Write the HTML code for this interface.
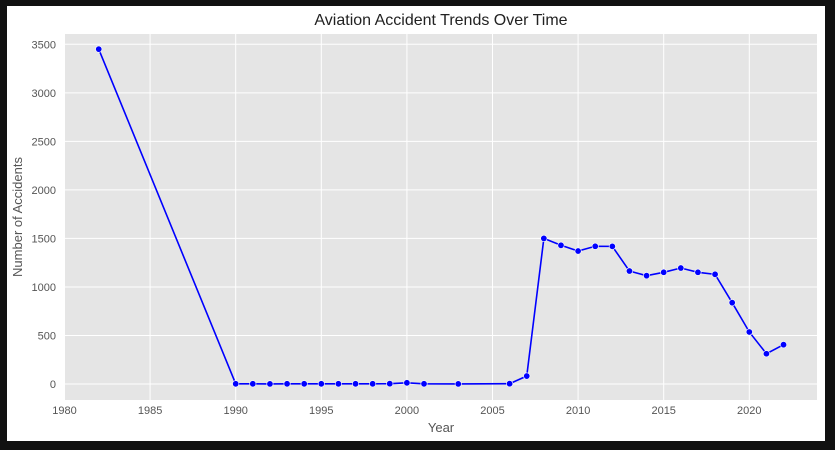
<!DOCTYPE html>
<html><head><meta charset="utf-8"><style>
html,body{margin:0;padding:0;background:#111;}
svg{display:block;font-family:"Liberation Sans",sans-serif;}
</style></head><body>
<svg id="chart" width="835" height="450">
<rect x="0" y="0" width="835" height="450" fill="#111"/>
<rect x="7" y="6" width="818" height="435" fill="#fff"/>
<rect x="65" y="34" width="752" height="366" fill="#e5e5e5"/>
<g id="grid"></g><g id="ticks"></g><g id="series"></g>
<text x="441" y="25" text-anchor="middle" font-size="16" fill="#222">Aviation Accident Trends Over Time</text>
<text x="441" y="432" text-anchor="middle" font-size="13" fill="#555">Year</text>
<text transform="translate(22,217) rotate(-90)" text-anchor="middle" font-size="13" fill="#555">Number of Accidents</text>
</svg>
<script>
const years=[1982,1990,1991,1992,1993,1994,1995,1996,1997,1998,1999,2000,2001,2003,2006,2007,2008,2009,2010,2011,2012,2013,2014,2015,2016,2017,2018,2019,2020,2021,2022];
const accidents=[3450,2,2,1,2,2,2,2,2,2,3,12,2,1,3,82,1500,1429,1370,1419,1418,1164,1116,1151,1195,1151,1130,838,536,312,405];
const xTicks=[1980,1985,1990,1995,2000,2005,2010,2015,2020];
const yTicks=[0,500,1000,1500,2000,2500,3000,3500];
const NS="http://www.w3.org/2000/svg";
const xs=y=>64.5+(y-1980)*17.12;
const ys=v=>384-v*0.09706;
function mk(t,a,p){const e=document.createElementNS(NS,t);for(const k in a)e.setAttribute(k,a[k]);p.appendChild(e);return e;}
const grid=document.getElementById('grid'),ticks=document.getElementById('ticks'),series=document.getElementById('series');
xTicks.forEach(t=>{
 const l=mk('line',{x1:xs(t),x2:xs(t),y1:34,y2:400,stroke:'#fff','stroke-width':1},grid);
 
 
 const tx=mk('text',{x:xs(t),y:414,'text-anchor':'middle','font-size':11,fill:'#555'},ticks);
 tx.textContent=t;
 
 
});
yTicks.forEach(t=>{
 const l=mk('line',{x1:65,x2:817,y1:ys(t),y2:ys(t),stroke:'#fff','stroke-width':1},grid);
 
 
 const tx=mk('text',{x:56,y:ys(t)+4,'text-anchor':'end','font-size':11,fill:'#555'},ticks);
 tx.textContent=t;
 
 
});
const pl=mk('polyline',{points:years.map((y,i)=>xs(y)+','+ys(accidents[i])).join(' '),fill:'none',stroke:'#0000ff','stroke-width':1.6},series);


years.forEach((y,i)=>{
 const c=mk('circle',{cx:xs(y),cy:ys(accidents[i]),r:3.2,fill:'#0000ff',stroke:'#fff','stroke-width':0.6},series);
 
 
});
</script>
</body></html>
